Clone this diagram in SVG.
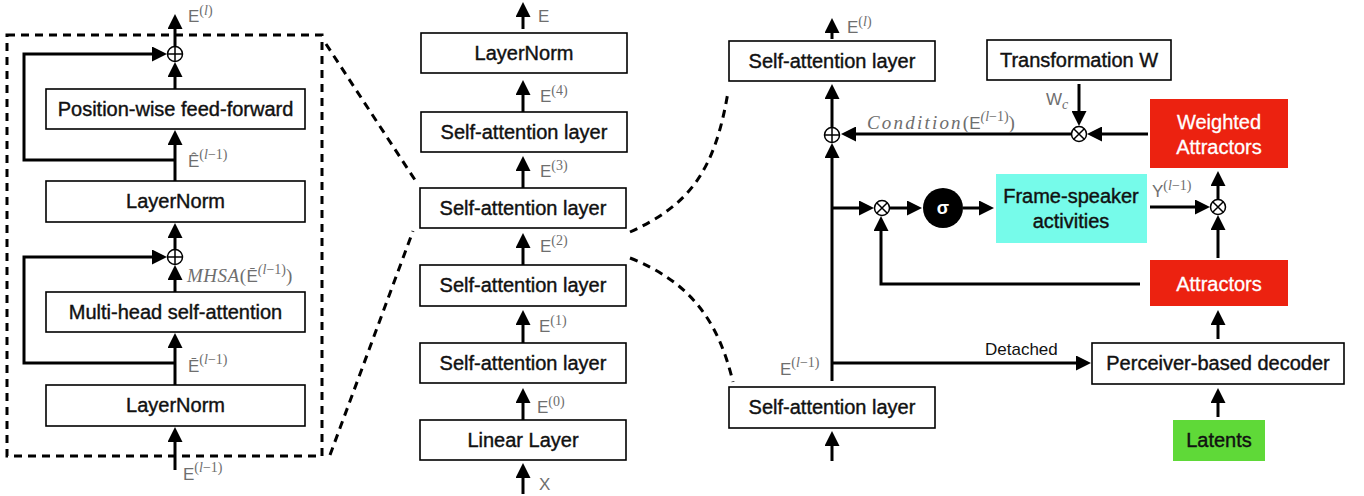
<svg xmlns="http://www.w3.org/2000/svg" width="1364" height="496" viewBox="0 0 1364 496">
<defs>
<style>
.box{fill:#fff;stroke:#000;stroke-width:1.6}
.t{font-family:"Liberation Sans",Arial,sans-serif;font-size:20px;fill:#111;text-anchor:middle;stroke:#111;stroke-width:0.4}
.tw{font-family:"Liberation Sans",Arial,sans-serif;font-size:20px;fill:#fff;text-anchor:middle;stroke:#fff;stroke-width:0.3}
.lbl{font-family:"Liberation Sans",Arial,sans-serif;font-size:17px;fill:#6e6e6e}
.sup{font-family:"Liberation Serif","Times New Roman",serif;font-size:14px}
.it{font-style:italic}
.math{font-family:"Liberation Serif","Times New Roman",serif;font-style:italic;font-size:19px;fill:#6e6e6e}
.ar{fill:none;stroke:#000;stroke-width:3;marker-end:url(#ah)}
.dash{fill:none;stroke:#000;stroke-width:3;stroke-dasharray:8 6}
.op{fill:#fff;stroke:#000;stroke-width:1.5}
.red{fill:#ec2210}
</style>
<marker id="ah" viewBox="0 0 15 15" markerWidth="15" markerHeight="15" refX="11" refY="7.5" orient="auto" markerUnits="userSpaceOnUse">
<path d="M0,0 L15,7.5 L0,15 z" fill="#000"/>
</marker>
</defs>
<rect width="1364" height="496" fill="#fff"/>

<g id="connectors">
<rect x="7" y="35" width="315" height="421" class="dash"/>
<line x1="175" y1="46" x2="175" y2="18" class="ar"/>
<line x1="175" y1="89" x2="175" y2="66" class="ar"/>
<path d="M175,160 H24 V54 H163" class="ar"/>
<line x1="175" y1="181" x2="175" y2="134" class="ar"/>
<line x1="175" y1="249" x2="175" y2="227" class="ar"/>
<path d="M175,363 H24 V257 H163" class="ar"/>
<line x1="175" y1="292" x2="175" y2="269" class="ar"/>
<line x1="175" y1="385" x2="175" y2="337" class="ar"/>
<line x1="175" y1="470" x2="175" y2="431" class="ar"/>
<line x1="326" y1="44" x2="417" y2="183" class="dash"/>
<line x1="330" y1="455" x2="413" y2="231" class="dash"/>
<path d="M630,232 C690,205 715,170 728,92" class="dash"/>
<path d="M630,258 C690,282 718,320 733,382" class="dash"/>
<line x1="523" y1="29" x2="523" y2="6" class="ar"/>
<line x1="523" y1="112" x2="523" y2="84" class="ar"/>
<line x1="523" y1="188" x2="523" y2="160" class="ar"/>
<line x1="523" y1="265" x2="523" y2="237" class="ar"/>
<line x1="523" y1="343" x2="523" y2="314" class="ar"/>
<line x1="523" y1="420" x2="523" y2="392" class="ar"/>
<line x1="523" y1="494" x2="523" y2="467" class="ar"/>
<line x1="832" y1="39" x2="832" y2="22" class="ar"/>
<line x1="832" y1="127" x2="832" y2="88" class="ar"/>
<line x1="832" y1="381" x2="832" y2="147" class="ar"/>
<path d="M832,363 H1087" class="ar"/>
<line x1="832" y1="461" x2="832" y2="435" class="ar"/>
<line x1="1079" y1="84" x2="1079" y2="122" class="ar"/>
<line x1="1148" y1="134" x2="1091" y2="134" class="ar"/>
<line x1="1071" y1="134" x2="845" y2="134" class="ar"/>
<line x1="1218" y1="417" x2="1218" y2="392" class="ar"/>
<line x1="1218" y1="339" x2="1218" y2="314" class="ar"/>
<line x1="1218" y1="258" x2="1218" y2="219" class="ar"/>
<line x1="1218" y1="199" x2="1218" y2="175" class="ar"/>
<line x1="1150" y1="207" x2="1206" y2="207" class="ar"/>
<line x1="832" y1="208" x2="870" y2="208" class="ar"/>
<line x1="890" y1="208" x2="918" y2="208" class="ar"/>
<line x1="963" y1="208" x2="990" y2="208" class="ar"/>
<path d="M1140,284 H881 V220" class="ar"/>
</g>

<g id="labels">
<text class="lbl" x="188" y="22">E<tspan class="sup" dy="-7">(<tspan class="it">l</tspan>)</tspan></text>
<text class="lbl" x="188" y="167">Ê<tspan class="sup" dy="-8">(<tspan class="it">l</tspan>−1)</tspan></text>
<text class="math" x="187" y="282" letter-spacing="0.5">MHSA<tspan font-style="normal">(</tspan><tspan class="lbl" font-style="normal" letter-spacing="0">Ē</tspan><tspan class="sup" dy="-8" letter-spacing="0">(<tspan class="it">l</tspan><tspan font-style="normal">−1)</tspan></tspan><tspan font-style="normal" dy="8">)</tspan></text>
<text class="lbl" x="188" y="372">Ē<tspan class="sup" dy="-8">(<tspan class="it">l</tspan>−1)</tspan></text>
<text class="lbl" x="183" y="480">E<tspan class="sup" dy="-8">(<tspan class="it">l</tspan>−1)</tspan></text>
<text class="lbl" x="538" y="22">E</text>
<text class="lbl" x="540" y="102">E<tspan class="sup" dy="-7">(4)</tspan></text>
<text class="lbl" x="540" y="177">E<tspan class="sup" dy="-7">(3)</tspan></text>
<text class="lbl" x="540" y="252">E<tspan class="sup" dy="-7">(2)</tspan></text>
<text class="lbl" x="539" y="332">E<tspan class="sup" dy="-7">(1)</tspan></text>
<text class="lbl" x="537" y="413">E<tspan class="sup" dy="-7">(0)</tspan></text>
<text class="lbl" x="539" y="490">X</text>
<text class="lbl" x="847" y="33">E<tspan class="sup" dy="-7">(<tspan class="it">l</tspan>)</tspan></text>
<text class="math" x="867" y="129" font-size="20" letter-spacing="2.2">Condition<tspan font-style="normal" letter-spacing="0">(</tspan><tspan class="lbl" font-style="normal" letter-spacing="0">E</tspan><tspan class="sup" dy="-8" letter-spacing="0">(<tspan class="it">l</tspan><tspan font-style="normal">−1)</tspan></tspan><tspan font-style="normal" dy="8" letter-spacing="0">)</tspan></text>
<text class="lbl" x="1046" y="105">W<tspan class="sup it" dy="4">c</tspan></text>
<text class="lbl" x="1152" y="197">Y<tspan class="sup" dy="-7">(<tspan class="it">l</tspan>−1)</tspan></text>
<text class="lbl" x="780" y="375">E<tspan class="sup" dy="-8">(<tspan class="it">l</tspan>−1)</tspan></text>
<text class="lbl" x="985" y="355" style="fill:#111">Detached</text>
</g>

<g id="ff"><rect class="box" x="46" y="89" width="259" height="40"/><text class="t" x="175.5" y="116">Position-wise feed-forward</text></g>
<g id="ln1"><rect class="box" x="46" y="181" width="259" height="41"/><text class="t" x="175.5" y="208">LayerNorm</text></g>
<g id="mhsa"><rect class="box" x="46" y="292" width="259" height="40"/><text class="t" x="175.5" y="319">Multi-head self-attention</text></g>
<g id="ln2"><rect class="box" x="46" y="385" width="259" height="41"/><text class="t" x="175.5" y="412">LayerNorm</text></g>
<g id="add1"><circle class="op" cx="175" cy="54" r="7.5"/><path d="M167.5,54 H182.5 M175,46.5 V61.5" stroke="#000" stroke-width="1.5"/></g>
<g id="add2"><circle class="op" cx="175" cy="257" r="7.5"/><path d="M167.5,257 H182.5 M175,249.5 V264.5" stroke="#000" stroke-width="1.5"/></g>

<g id="m_ln"><rect class="box" x="421" y="33" width="206" height="40"/><text class="t" x="524" y="60">LayerNorm</text></g>
<g id="m_sa4"><rect class="box" x="421" y="112" width="206" height="40"/><text class="t" x="524" y="139">Self-attention layer</text></g>
<g id="m_sa3"><rect class="box" x="420" y="188" width="206" height="40"/><text class="t" x="523" y="215">Self-attention layer</text></g>
<g id="m_sa2"><rect class="box" x="420" y="265" width="206" height="41"/><text class="t" x="523" y="292">Self-attention layer</text></g>
<g id="m_sa1"><rect class="box" x="420" y="343" width="206" height="40"/><text class="t" x="523" y="370">Self-attention layer</text></g>
<g id="m_lin"><rect class="box" x="420" y="420" width="206" height="40"/><text class="t" x="523" y="447">Linear Layer</text></g>

<g id="r_sa_top"><rect class="box" x="729" y="41" width="206" height="40"/><text class="t" x="832" y="68">Self-attention layer</text></g>
<g id="r_sa_bot"><rect class="box" x="729" y="387" width="206" height="41"/><text class="t" x="832" y="414">Self-attention layer</text></g>
<g id="transW"><rect class="box" x="987" y="40" width="184" height="40"/><text class="t" x="1079" y="67">Transformation W</text></g>
<g id="wattr"><rect class="red" x="1150" y="99" width="138" height="69"/><text class="tw" x="1219" y="129">Weighted</text><text class="tw" x="1219" y="154">Attractors</text></g>
<g id="frame"><rect fill="#76fbea" x="996" y="174" width="151" height="69"/><text class="t" x="1071" y="203">Frame-speaker</text><text class="t" x="1071" y="228">activities</text></g>
<g id="attr"><rect class="red" x="1150" y="260" width="138" height="46"/><text class="tw" x="1219" y="291">Attractors</text></g>
<g id="perc"><rect class="box" x="1092" y="343" width="252" height="41"/><text class="t" x="1218" y="370">Perceiver-based decoder</text></g>
<g id="latents"><rect fill="#5fd938" x="1173" y="420" width="92" height="41"/><text class="t" x="1219" y="447">Latents</text></g>
<g id="r_add"><circle class="op" cx="832" cy="135" r="7.5"/><path d="M824.5,135 H839.5 M832,127.5 V142.5" stroke="#000" stroke-width="1.5"/></g>
<g id="mul_w"><circle class="op" cx="1079" cy="134" r="7.5"/><path d="M1073.7,128.7 L1084.3,139.3 M1084.3,128.7 L1073.7,139.3" stroke="#000" stroke-width="1.5"/></g>
<g id="mul_a"><circle class="op" cx="882" cy="208" r="7.5"/><path d="M876.7,202.7 L887.3,213.3 M887.3,202.7 L876.7,213.3" stroke="#000" stroke-width="1.5"/></g>
<g id="mul_y"><circle class="op" cx="1218" cy="207" r="7.5"/><path d="M1212.7,201.7 L1223.3,212.3 M1223.3,201.7 L1212.7,212.3" stroke="#000" stroke-width="1.5"/></g>
<g id="sigma"><circle cx="943" cy="208" r="20" fill="#000"/><text x="943" y="214" font-family="'Liberation Sans',Arial,sans-serif" font-size="18" font-weight="bold" fill="#fff" text-anchor="middle">σ</text></g>
</svg>
